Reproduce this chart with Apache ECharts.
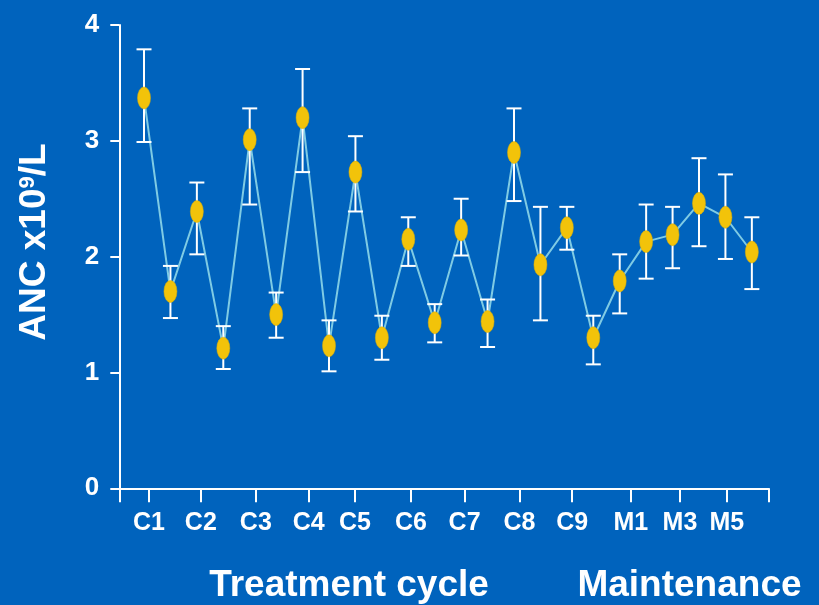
<!DOCTYPE html>
<html>
<head>
<meta charset="utf-8">
<script src="https://cdn.jsdelivr.net/npm/echarts@6/dist/echarts.min.js"></script>
<style>
  html, body { margin: 0; padding: 0; background: #0063bd; }
  #chart { width: 819px; height: 605px; }
</style>
</head>
<body>
<div id="chart"></div>
<script>
// Mean ANC (x10^9/L) at each sampling point, with upper and lower error limits
const meanANC  = [3.37, 1.70, 2.39, 1.21, 3.01, 1.50, 3.20, 1.23, 2.73, 1.30, 2.15, 1.43,
                  2.23, 1.44, 2.90, 1.93, 2.25, 1.30, 1.79, 2.13, 2.19, 2.46, 2.34, 2.04];
const upperANC = [3.79, 1.92, 2.64, 1.40, 3.28, 1.69, 3.62, 1.45, 3.04, 1.49, 2.34, 1.59,
                  2.50, 1.63, 3.28, 2.43, 2.43, 1.49, 2.02, 2.45, 2.43, 2.85, 2.71, 2.34];
const lowerANC = [2.99, 1.47, 2.02, 1.03, 2.45, 1.30, 2.73, 1.01, 2.39, 1.11, 1.92, 1.26,
                  2.01, 1.22, 2.48, 1.45, 2.06, 1.07, 1.51, 1.81, 1.90, 2.09, 1.98, 1.72];

// Cycle labels and where their ticks sit along the sample index axis
const cycleLabels    = ['C1', 'C2', 'C3', 'C4', 'C5', 'C6', 'C7', 'C8', 'C9', 'M1', 'M3', 'M5'];
const cyclePositions = [0.19, 2.15, 4.23, 6.23, 7.98, 10.1, 12.13, 14.21, 16.2, 18.42, 20.28, 22.05];
const axisStart = -0.935;
const axisEnd = 23.63;

const yTicks = [0, 1, 2, 3, 4];

const FONT = '"Liberation Sans", Arial, sans-serif';
const WHITE = '#ffffff';

const chart = echarts.init(document.getElementById('chart'), null, { renderer: 'canvas' });

const pts = meanANC.map((v, i) => [i, v]);
const bars = meanANC.map((v, i) => [i, upperANC[i], lowerANC[i]]);

chart.setOption({
  backgroundColor: '#0063bd',
  animation: false,
  grid: { left: 119.3, right: 50.5, top: 25, bottom: 116.7, containLabel: false },
  xAxis: {
    type: 'value',
    min: axisStart,
    max: axisEnd,
    splitLine: { show: false },
    axisLine: { show: true, onZero: false, lineStyle: { color: WHITE, width: 2 } },
    axisTick: {
      show: true, length: 14, lineStyle: { color: WHITE, width: 2 },
      customValues: [axisStart].concat(cyclePositions, [axisEnd])
    },
    axisLabel: {
      show: true,
      customValues: cyclePositions,
      formatter: function (val) {
        let best = 0, d = Infinity;
        cyclePositions.forEach((p, i) => { const e = Math.abs(p - val); if (e < d) { d = e; best = i; } });
        return cycleLabels[best];
      },
      color: WHITE, fontFamily: FONT, fontWeight: 'bold', fontSize: 25, margin: 22
    }
  },
  yAxis: {
    type: 'value',
    min: yTicks[0],
    max: yTicks[yTicks.length - 1],
    interval: 1,
    splitLine: { show: false },
    axisLine: { show: true, onZero: false, lineStyle: { color: WHITE, width: 2 } },
    axisTick: { show: true, length: 9, lineStyle: { color: WHITE, width: 2 } },
    axisLabel: {
      color: WHITE, fontFamily: FONT, fontWeight: 'bold', fontSize: 26, margin: 20,
      padding: [0, 0, 10, 0]
    }
  },
  graphic: [
    {
      type: 'text', x: 34.5, y: 242, rotation: Math.PI / 2,
      style: {
        text: '{a|ANC x10}{s|9}{a|/L}',
        align: 'center', verticalAlign: 'middle',
        fill: WHITE,
        rich: {
          a: { fontFamily: FONT, fontWeight: 'bold', fontSize: 37, fill: WHITE, lineHeight: 40, verticalAlign: 'middle' },
          s: { fontFamily: FONT, fontWeight: 'bold', fontSize: 22, fill: WHITE, lineHeight: 22, verticalAlign: 'top', padding: [2, 0, 0, 0] }
        }
      }
    },
    {
      type: 'text', x: 349, y: 586,
      style: { text: 'Treatment cycle', align: 'center', verticalAlign: 'middle',
               fill: WHITE, fontFamily: FONT, fontWeight: 'bold', fontSize: 37 }
    },
    {
      type: 'text', x: 689.5, y: 586,
      style: { text: 'Maintenance', align: 'center', verticalAlign: 'middle',
               fill: WHITE, fontFamily: FONT, fontWeight: 'bold', fontSize: 37 }
    }
  ],
  series: [
    {
      type: 'line',
      data: pts,
      showSymbol: false,
      lineStyle: { color: '#7fcbe4', width: 2 },
      z: 2
    },
    {
      type: 'custom',
      data: bars,
      z: 3,
      renderItem: function (params, api) {
        const x = api.value(0);
        const hi = api.coord([x, api.value(1)]);
        const lo = api.coord([x, api.value(2)]);
        const half = 7.5;
        const style = { stroke: WHITE, lineWidth: 2, fill: null };
        return {
          type: 'group',
          children: [
            { type: 'line', shape: { x1: hi[0], y1: hi[1], x2: lo[0], y2: lo[1] }, style: style },
            { type: 'line', shape: { x1: hi[0] - half, y1: hi[1], x2: hi[0] + half, y2: hi[1] }, style: style },
            { type: 'line', shape: { x1: lo[0] - half, y1: lo[1], x2: lo[0] + half, y2: lo[1] }, style: style }
          ]
        };
      }
    },
    {
      type: 'scatter',
      data: pts,
      symbol: 'circle',
      symbolSize: [13, 22],
      itemStyle: { color: '#f2c30a', borderColor: '#e0b000', borderWidth: 0.5, opacity: 1 },
      z: 4
    }
  ]
});
</script>
</body>
</html>
